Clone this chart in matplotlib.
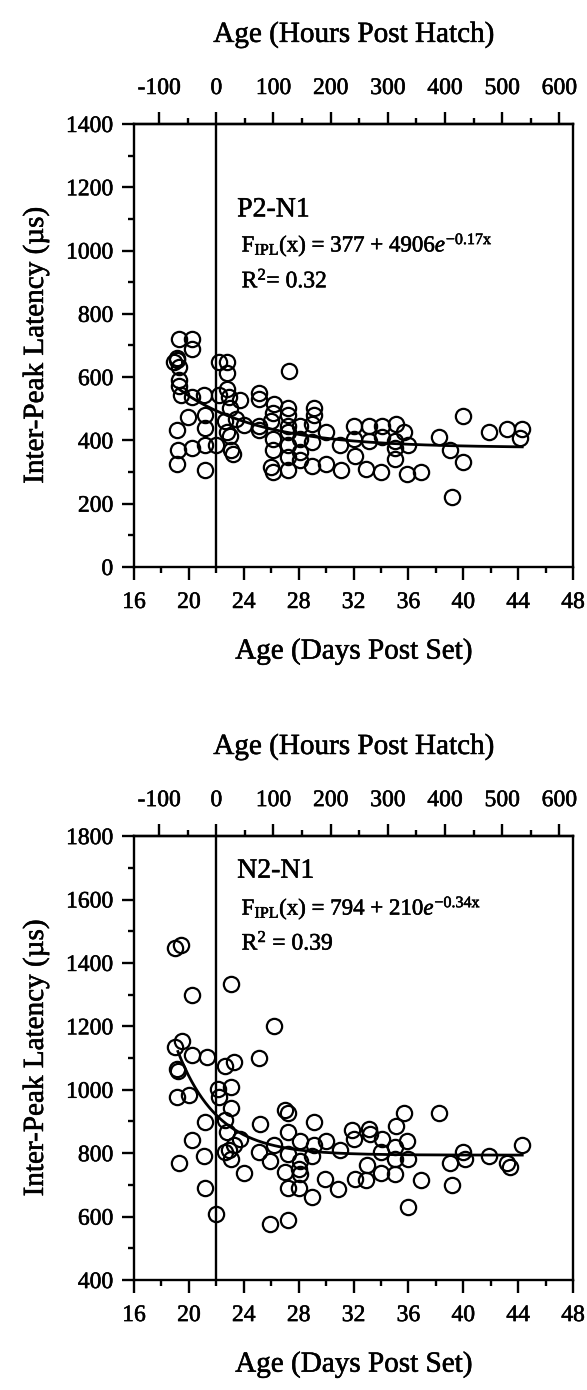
import numpy as np
import matplotlib
matplotlib.use("Agg")
import matplotlib.pyplot as plt
import matplotlib.patheffects as pe
from matplotlib.text import Text
from matplotlib.ticker import MultipleLocator

plt.rcParams['font.family'] = ['Liberation Serif', 'DejaVu Serif']
plt.rcParams['mathtext.fontset'] = 'custom'
plt.rcParams['mathtext.rm'] = 'Liberation Serif'
plt.rcParams['mathtext.it'] = 'Liberation Serif:italic'
plt.rcParams['axes.unicode_minus'] = False

# P2-N1 : age (days post set) / inter-peak latency (us)
p2_days = [19.3, 20.2, 20.2, 18.9, 19.1, 19.3, 19.15, 19.3, 19.3, 19.4, 20.2, 21.1,
           19.1, 19.9, 19.2, 19.1, 20.2, 21.2, 21.2, 21.2, 21.2, 22.0, 22.2, 22.8,
           22.8, 22.2, 22.8, 22.9, 23.0, 22.6, 22.8, 23.0, 23.1, 23.2, 23.4, 23.7,
           24.0, 25.1, 25.1, 25.1, 25.1, 26.2, 26.1, 26.0, 26.1, 26.1, 26.0, 26.1,
           27.3, 27.2, 27.2, 27.2, 27.2, 27.2, 27.2, 27.2, 28.1, 28.1, 28.1, 28.1,
           29.1, 29.1, 29.0, 29.0, 29.0, 30.0, 30.0, 31.0, 31.1, 32.0, 32.0, 32.1,
           33.1, 33.1, 32.9, 34.1, 34.1, 34.0, 35.1, 35.0, 35.0, 35.0, 35.7, 36.0,
           35.9, 36.9, 38.2, 39.0, 39.2, 40.0, 40.0, 41.9, 43.2, 44.3, 44.1]
p2_ipl = [719, 719, 689, 647, 654, 633, 661, 592, 571, 543, 536, 543,
          432, 474, 370, 324, 377, 481, 439, 387, 308, 387, 647, 647,
          613, 543, 564, 536, 502, 460, 426, 414, 370, 356, 467, 529,
          449, 550, 532, 446, 432, 516, 488, 460, 405, 370, 315, 301,
          620, 502, 481, 446, 426, 384, 349, 305, 446, 405, 363, 338,
          502, 481, 453, 394, 319, 426, 324, 384, 308, 446, 405, 352,
          446, 398, 310, 446, 412, 301, 453, 398, 377, 342, 426, 384,
          294, 301, 412, 370, 222, 477, 333, 426, 435, 435, 408]

# N2-N1
n2_days = [19.0, 19.4, 20.2, 23.1, 26.2, 19.5, 19.0, 20.2, 21.3, 19.1, 19.2, 22.6,
           23.3, 25.1, 19.1, 20.0, 22.1, 22.2, 23.1, 23.1, 21.2, 22.6, 25.2, 22.8,
           23.7, 20.2, 23.3, 22.9, 22.6, 23.1, 21.1, 19.3, 25.1, 24.0, 21.2, 21.95,
           25.9, 27.2, 26.2, 25.9, 27.0, 27.2, 27.2, 27.2, 27.0, 27.2, 28.1, 28.1,
           28.0, 28.1, 28.0, 29.1, 29.1, 29.0, 29.0, 30.0, 29.9, 31.0, 30.9, 31.9,
           32.0, 32.1, 33.1, 33.2, 33.0, 32.9, 34.1, 34.0, 34.0, 35.1, 35.0, 35.0,
           35.0, 35.7, 35.9, 36.0, 36.0, 36.9, 38.2, 39.0, 39.2, 40.0, 40.1, 41.9,
           43.2, 43.4, 44.3]
n2_ipl = [1447, 1457, 1299, 1335, 1202, 1155, 1136, 1111, 1104, 1067, 1060, 1074,
          1088, 1100, 977, 984, 1002, 977, 1009, 942, 898, 904, 891, 866,
          846, 841, 825, 811, 804, 783, 790, 769, 804, 738, 691, 608,
          576, 590, 825, 776, 935, 926, 866, 797, 742, 691, 839, 776,
          751, 735, 691, 898, 825, 790, 663, 839, 718, 811, 686, 873,
          846, 718, 875, 859, 762, 714, 846, 804, 738, 887, 818, 783,
          735, 928, 839, 783, 631, 714, 926, 769, 700, 804, 783, 790,
          769, 755, 825]

# fitted curves  a + b*exp(-c*(x - x0))
p2_fit = (377, 4906, 0.17, 0.0)
n2_fit = (794, 210, 0.34, 20.5)
fit_range = (19.2, 44.3)

hatch_day = 22.0
day_ticks = np.arange(16, 49, 4)
hour_ticks = np.arange(-100, 601, 100)


def panel(ax, days, ipl, fit, ylim, name, eq, r2, txt_y):
    ax.plot(days, ipl, 'o', ms=11, mfc='none', mec='black', mew=1.6, zorder=3)
    xs = np.linspace(fit_range[0], fit_range[1], 300)
    a, b, c, x0 = fit
    ax.plot(xs, a + b * np.exp(-c * (xs - x0)), color='black', lw=2.0, zorder=2)
    ax.axvline(hatch_day, color='black', lw=1.7, zorder=1)

    ax.set_xlim(16, 48)
    ax.set_ylim(*ylim)
    ax.set_xticks(day_ticks)
    ax.xaxis.set_minor_locator(MultipleLocator(2))
    ax.yaxis.set_major_locator(MultipleLocator(200))
    ax.yaxis.set_minor_locator(MultipleLocator(100))
    ax.tick_params(which='both', direction='out', width=1.7, labelsize=17)
    ax.tick_params(which='major', length=9)
    ax.tick_params(which='minor', length=4.5)
    ax.tick_params(axis='x', pad=9)
    ax.tick_params(axis='y', pad=6)
    for s in ax.spines.values():
        s.set_linewidth(1.7)

    ax.set_xlabel('Age (Days Post Set)', fontsize=21, labelpad=18)
    ax.set_ylabel('Inter-Peak Latency (\u00b5s)', fontsize=21, labelpad=12)

    top = ax.secondary_xaxis('top', functions=(lambda d: (d - hatch_day) * 24,
                                               lambda h: h / 24 + hatch_day))
    top.set_xticks(hour_ticks)
    top.xaxis.set_minor_locator(MultipleLocator(50))
    top.tick_params(which='both', direction='out', width=1.7, labelsize=17, pad=9)
    top.tick_params(which='major', length=9)
    top.tick_params(which='minor', length=4.5)
    top.spines['top'].set_linewidth(1.7)
    top.set_xlabel('Age (Hours Post Hatch)', fontsize=21, labelpad=26)

    ax.text(0.235, txt_y[0], name, transform=ax.transAxes, fontsize=20, va='center')
    ax.text(0.245, txt_y[1], eq, transform=ax.transAxes, fontsize=16.5, va='center')
    ax.text(0.245, txt_y[2], r2, transform=ax.transAxes, fontsize=17, va='center')


fig = plt.figure(figsize=(5.87, 13.9), dpi=100)
ax1 = fig.add_axes([0.2283, 0.5921, 0.7479, 0.3187])
ax2 = fig.add_axes([0.2283, 0.0791, 0.7479, 0.3194])

panel(ax1, p2_days, p2_ipl, p2_fit, (0, 1400), 'P2-N1',
      r'F$_{\mathrm{IPL}}$(x) = 377 + 4906$\mathit{e}^{\mathrm{-0.17x}}$',
      r'R$^{2}$= 0.32', (0.806, 0.727, 0.646))
panel(ax2, n2_days, n2_ipl, n2_fit, (400, 1800), 'N2-N1',
      r'F$_{\mathrm{IPL}}$(x) = 794 + 210$\mathit{e}^{\mathrm{-0.34x}}$',
      r'R$^{2}$ = 0.39', (0.921, 0.838, 0.759))

# scanned print looks a bit heavier, thicken the glyphs slightly
for t in fig.findobj(Text):
    t.set_path_effects([pe.withStroke(linewidth=0.4, foreground='black')])

fig.savefig('out.png', dpi=100)
